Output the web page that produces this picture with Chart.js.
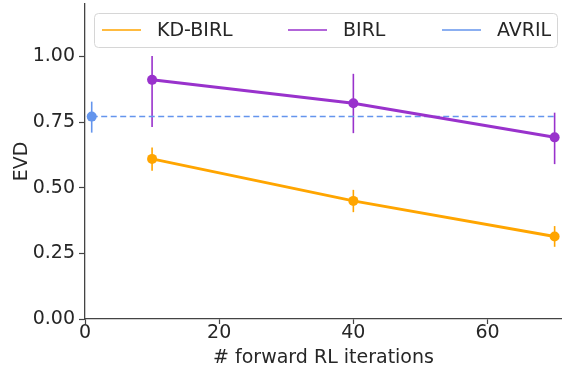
<!DOCTYPE html>
<html>
<head>
<meta charset="utf-8">
<script src="https://cdn.jsdelivr.net/npm/chart.js@4"></script>
<style>
  html, body { margin: 0; padding: 0; background: #fff; }
  #wrap { width: 562px; height: 372px; }
</style>
</head>
<body>
<div id="wrap"><canvas id="evdChart" width="562" height="372"></canvas></div>
<script>
// --- DATA ---
const seriesNames = ['KD-BIRL', 'BIRL', 'AVRIL'];
const seriesColors = ['#FFA500', '#9932CC', '#6495ED'];

const iterX = [10, 40, 70];
const kdMean = [0.610, 0.450, 0.314];
const kdLow = [0.565, 0.407, 0.275];
const kdHigh = [0.653, 0.492, 0.354];

const birlMean = [0.911, 0.822, 0.692];
const birlLow = [0.731, 0.708, 0.590];
const birlHigh = [1.002, 0.934, 0.786];

const avrilX = [1, 70];
const avrilMean = [0.771, 0.771];
const avrilLow = [0.710, null];
const avrilHigh = [0.828, null];

const xTicks = [0, 20, 40, 60];
const yTicks = [0, 0.25, 0.5, 0.75, 1.0];

const TEXT = '#262626';
const FONT = '"DejaVu Sans", sans-serif';
const FSIZE = 19;

const toPoints = (xs, ys) => xs.map((x, i) => ({ x: x, y: ys[i] }));

// error bars drawn through the chart scales
const errorBars = {
    id: 'errorBars',
    beforeDatasetsDraw(chart) {
        const { ctx, scales: { x, y } } = chart;
        chart.data.datasets.forEach(ds => {
            if (!ds.errLow) return;
            ctx.save();
            ctx.strokeStyle = ds.borderColor;
            ctx.lineWidth = 1.6;
            ds.data.forEach((p, i) => {
                if (ds.errLow[i] == null) return;
                const px = x.getPixelForValue(p.x);
                ctx.beginPath();
                ctx.moveTo(px, y.getPixelForValue(ds.errLow[i]));
                ctx.lineTo(px, y.getPixelForValue(ds.errHigh[i]));
                ctx.stroke();
            });
            ctx.restore();
        });
    }
};

// matplotlib-like legend box
const boxLegend = {
    id: 'boxLegend',
    afterDraw(chart) {
        const ctx = chart.ctx;
        ctx.save();
        ctx.beginPath();
        ctx.roundRect(94.5, 13.5, 463, 34, 4);
        ctx.fillStyle = 'rgba(255,255,255,0.8)';
        ctx.fill();
        ctx.strokeStyle = '#d6d6d6';
        ctx.lineWidth = 1;
        ctx.stroke();
        const startX = [102, 288, 442];
        ctx.font = FSIZE + 'px ' + FONT;
        ctx.textBaseline = 'middle';
        seriesNames.forEach((name, i) => {
            ctx.strokeStyle = seriesColors[i];
            ctx.lineWidth = 1.5;
            ctx.beginPath();
            ctx.moveTo(startX[i], 30);
            ctx.lineTo(startX[i] + 39, 30);
            ctx.stroke();
            ctx.fillStyle = TEXT;
            ctx.fillText(name, startX[i] + 55, 31);
        });
        ctx.restore();
    }
};

const ctx = document.getElementById('evdChart').getContext('2d');
new Chart(ctx, {
    type: 'line',
    data: {
        datasets: [
            {
                label: seriesNames[0], data: toPoints(iterX, kdMean),
                borderColor: seriesColors[0], backgroundColor: seriesColors[0],
                borderWidth: 3, pointRadius: 5, pointHoverRadius: 5, pointBorderWidth: 0,
                errLow: kdLow, errHigh: kdHigh
            },
            {
                label: seriesNames[1], data: toPoints(iterX, birlMean),
                borderColor: seriesColors[1], backgroundColor: seriesColors[1],
                borderWidth: 3, pointRadius: 5, pointHoverRadius: 5, pointBorderWidth: 0,
                errLow: birlLow, errHigh: birlHigh
            },
            {
                label: seriesNames[2], data: toPoints(avrilX, avrilMean),
                borderColor: seriesColors[2], backgroundColor: seriesColors[2],
                borderWidth: 1.5, borderDash: [6, 3.5], pointRadius: [5, 0], pointBorderWidth: 0,
                errLow: avrilLow, errHigh: avrilHigh
            }
        ]
    },
    options: {
        responsive: false,
        animation: false,
        layout: { autoPadding: false, padding: { top: 4, right: 0, left: 0, bottom: 0 } },
        plugins: { legend: { display: false }, tooltip: { enabled: false } },
        scales: {
            x: {
                type: 'linear', min: 0, max: 71.1,
                afterBuildTicks: s => { s.ticks = xTicks.map(v => ({ value: v })); },
                afterFit: s => { s.height = 53; s.paddingLeft = 0; s.paddingRight = 0; },
                grid: { drawOnChartArea: false, drawTicks: true, tickLength: 5, color: '#444', tickWidth: 1.2 },
                border: { display: true, color: '#444', width: 1.3 },
                ticks: { color: TEXT, font: { family: FONT, size: FSIZE }, padding: -2, maxRotation: 0 },
                title: { display: true, text: '# forward RL iterations', color: TEXT, font: { family: FONT, size: FSIZE }, padding: { top: 0, bottom: 3 } }
            },
            y: {
                type: 'linear', min: 0, max: 1.2,
                afterBuildTicks: s => { s.ticks = yTicks.map(v => ({ value: v })); },
                afterFit: s => { s.width = 85; s.paddingTop = 0; s.paddingBottom = 0; },
                grid: { drawOnChartArea: false, drawTicks: true, tickLength: 6, color: '#444', tickWidth: 1.2 },
                border: { display: true, color: '#444', width: 1.3 },
                ticks: { color: TEXT, font: { family: FONT, size: FSIZE }, padding: 4, callback: v => v.toFixed(2) },
                title: { display: true, text: 'EVD', color: TEXT, font: { family: FONT, size: FSIZE }, padding: { top: 11, bottom: 0 } }
            }
        }
    },
    plugins: [errorBars, boxLegend]
});
</script>
</body>
</html>
